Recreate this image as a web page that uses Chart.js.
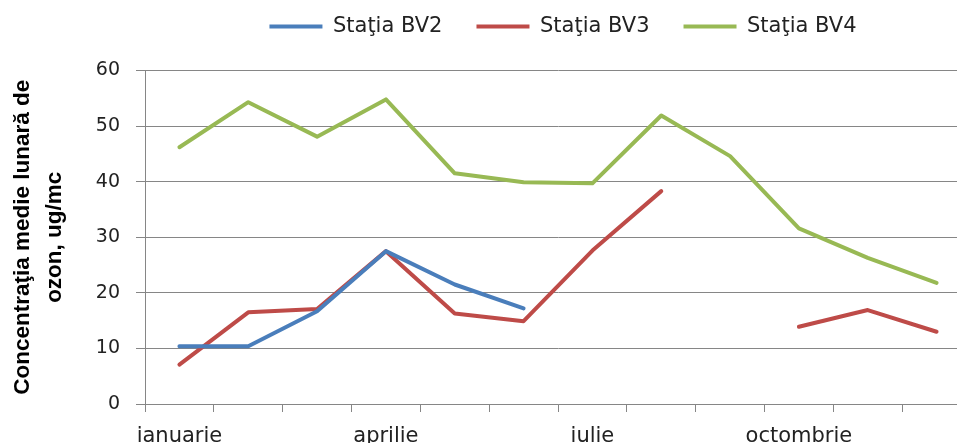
<!DOCTYPE html>
<html>
<head>
<meta charset="utf-8">
<script src="https://cdn.jsdelivr.net/npm/chart.js@4"></script>
<style>
  html, body { margin: 0; padding: 0; background: #fff; overflow: hidden; }
  #wrap { width: 972px; height: 443px; }
</style>
</head>
<body>
<div id="wrap"><canvas id="myChart" width="972" height="443"></canvas></div>
<script>
// luni
let months = ['ianuarie','februarie','martie','aprilie','mai','iunie','iulie','august','septembrie','octombrie','noiembrie','decembrie']
// medii lunare ozon, ug/mc
let bv2 = [10.4, 10.4, 16.7, 27.5, 21.5, 17.2, null, null, null, null, null, null]
let bv3 = [7.1, 16.5, 17.1, 27.5, 16.3, 14.9, 27.6, 38.3, null, 13.9, 16.9, 13.0]
let bv4 = [46.2, 54.3, 48.1, 54.8, 41.5, 39.9, 39.7, 51.9, 44.6, 31.6, 26.3, 21.8]
let shownMonths = ['ianuarie','aprilie','iulie','octombrie']

// extra space under the legend, and nudge it a bit right
const legendGap = {
  id: 'legendGap',
  beforeLayout(chart) {
    let lg = chart.legend
    if (lg && !lg._gap) {
      let fit = lg.fit
      lg.fit = function () { fit.call(this); this.height += 23.5 }
      lg._gap = true
    }
  },
  afterLayout(chart) {
    let lg = chart.legend
    if (lg) { lg.left += 5; lg.right += 5 }
  }
}

const data = {
  labels: months,
  datasets: [
    { label: 'Staţia BV2', data: bv2, borderColor: '#4A7EBB', backgroundColor: '#4A7EBB' },
    { label: 'Staţia BV3', data: bv3, borderColor: '#BE4B48', backgroundColor: '#BE4B48' },
    { label: 'Staţia BV4', data: bv4, borderColor: '#98B954', backgroundColor: '#98B954' }
  ]
}

const config = {
  type: 'line',
  data,
  plugins: [legendGap],
  options: {
    responsive: false,
    animation: false,
    spanGaps: false,
    layout: { padding: { top: -18, right: 1, left: 0, bottom: 0 } },
    elements: {
      line: { borderWidth: 4, tension: 0, borderCapStyle: 'round', borderJoinStyle: 'round' },
      point: { radius: 0, hoverRadius: 0 }
    },
    plugins: {
      tooltip: { enabled: false },
      legend: {
        position: 'top',
        fullSize: false,
        labels: {
          boxWidth: 53,
          boxHeight: 4,
          padding: 34,
          color: '#222',
          font: { family: 'DejaVu Sans', size: 21 },
          generateLabels: chart => Chart.defaults.plugins.legend.labels.generateLabels(chart).map(l => {
            l.lineWidth = 0
            return l
          })
        }
      }
    },
    scales: {
      x: {
        offset: true,
        afterFit: s => { s.height = 39 },
        border: { color: '#868686', width: 1 },
        grid: { offset: true, drawOnChartArea: false, tickLength: 8, color: '#868686' },
        ticks: {
          autoSkip: false,
          maxRotation: 0,
          padding: 12,
          color: '#222',
          font: { family: 'DejaVu Sans', size: 21 },
          callback: function (v) {
            let m = this.getLabelForValue(v)
            return shownMonths.includes(m) ? m : ''
          }
        }
      },
      y: {
        min: 0,
        max: 60,
        afterFit: s => { s.width = 145 },
        border: { color: '#868686', width: 1 },
        grid: { color: '#868686', tickLength: 9 },
        ticks: {
          stepSize: 10,
          padding: 16,
          color: '#222',
          font: { family: 'DejaVu Sans', size: 19 }
        },
        title: {
          display: true,
          text: ['Concentraţia medie lunară de', 'ozon, ug/mc'],
          color: '#000',
          padding: { top: 7, bottom: 0 },
          font: { family: 'Liberation Sans', size: 22.5, weight: 'bold', lineHeight: 1.42 }
        }
      }
    }
  }
}

var myChart = new Chart(document.getElementById('myChart'), config)
</script>
</body>
</html>
